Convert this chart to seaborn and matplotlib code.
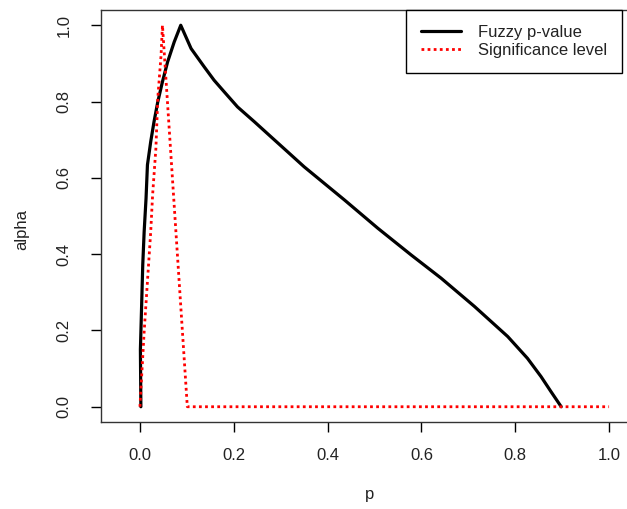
import matplotlib
matplotlib.use("Agg")
import matplotlib.pyplot as plt
import seaborn as sns
import pandas as pd

# Fuzzy p-value curve (p, alpha)
fuzzy_p = [0.002, 0.001, 0.006, 0.009, 0.013, 0.016, 0.023, 0.030, 0.038, 0.048, 0.059,
           0.073, 0.087, 0.109, 0.137, 0.158, 0.180, 0.208, 0.244, 0.279, 0.315, 0.350,
           0.436, 0.507, 0.578, 0.642, 0.713, 0.784, 0.826, 0.855, 0.876, 0.898]
fuzzy_alpha = [0.000, 0.150, 0.372, 0.459, 0.546, 0.634, 0.695, 0.747, 0.799, 0.852, 0.904,
               0.956, 1.000, 0.939, 0.891, 0.856, 0.825, 0.786, 0.747, 0.708, 0.668, 0.629,
               0.542, 0.468, 0.398, 0.337, 0.263, 0.184, 0.127, 0.079, 0.040, 0.000]

# Significance level curve (p, alpha)
sig_p = [0.000, 0.009, 0.016, 0.023, 0.027, 0.034, 0.038, 0.045, 0.048, 0.101, 1.000]
sig_alpha = [0.000, 0.197, 0.328, 0.459, 0.555, 0.677, 0.808, 0.921, 1.000, 0.000, 0.000]

series_names = ["Fuzzy p-value", "Significance level"]
x_ticks = [0.0, 0.2, 0.4, 0.6, 0.8, 1.0]
y_ticks = [0.0, 0.2, 0.4, 0.6, 0.8, 1.0]

sns.set_style("white")
plt.rcParams['font.family'] = ['Liberation Sans', 'DejaVu Sans']

W, H = 627, 509
fig = plt.figure(figsize=(W / 100, H / 100), dpi=100)
ax = fig.add_axes([101 / W, 1 - 422 / H, 547 / W, 412 / H])

df1 = pd.DataFrame({"p": fuzzy_p, "alpha": fuzzy_alpha})
df2 = pd.DataFrame({"p": sig_p, "alpha": sig_alpha})

sns.lineplot(data=df1, x="p", y="alpha", sort=False, estimator=None, ax=ax,
             color="black", lw=2.3, label=series_names[0])
sns.lineplot(data=df2, x="p", y="alpha", sort=False, estimator=None, ax=ax,
             color="red", lw=2.0, linestyle=(0, (1, 1.2)), label=series_names[1])

ax.set_xlim(-0.083, 1.083)
ax.set_ylim(-0.04, 1.04)
ax.set_xticks(x_ticks)
ax.set_yticks(y_ticks)
ax.set_xticklabels([f"{v:.1f}" for v in x_ticks])
ax.set_yticklabels([f"{v:.1f}" for v in y_ticks], rotation=90, va="center")
ax.tick_params(axis="both", which="major", length=7, width=1, color="black",
               labelsize=12, labelcolor="#222222", bottom=True, left=True)
ax.tick_params(axis="x", pad=12)
ax.tick_params(axis="y", pad=14)
for s in ax.spines.values():
    s.set_color("#333333")
    s.set_linewidth(1.0)

ax.set_xlabel("p", fontsize=12, color="#222222")
ax.set_ylabel("alpha", fontsize=12, color="#222222")
ax.xaxis.set_label_coords(370 / W, 1 - 494 / H, transform=fig.transFigure)
ax.xaxis.label.set_va("center")
ax.yaxis.set_label_coords(22 / W, 1 - 230 / H, transform=fig.transFigure)
ax.yaxis.label.set_va("center")

leg = ax.legend(loc="upper left", bbox_to_anchor=(406 / W, 1 - 10 / H),
                bbox_transform=fig.transFigure, frameon=True, fancybox=False,
                framealpha=1, edgecolor="black", fontsize=12, handlelength=2.4,
                handletextpad=1.0, labelspacing=0.2, borderpad=0.9, borderaxespad=0)
leg.get_frame().set_linewidth(1.0)
for t in leg.get_texts():
    t.set_color("#222222")

fig.savefig("out.png", dpi=100)
